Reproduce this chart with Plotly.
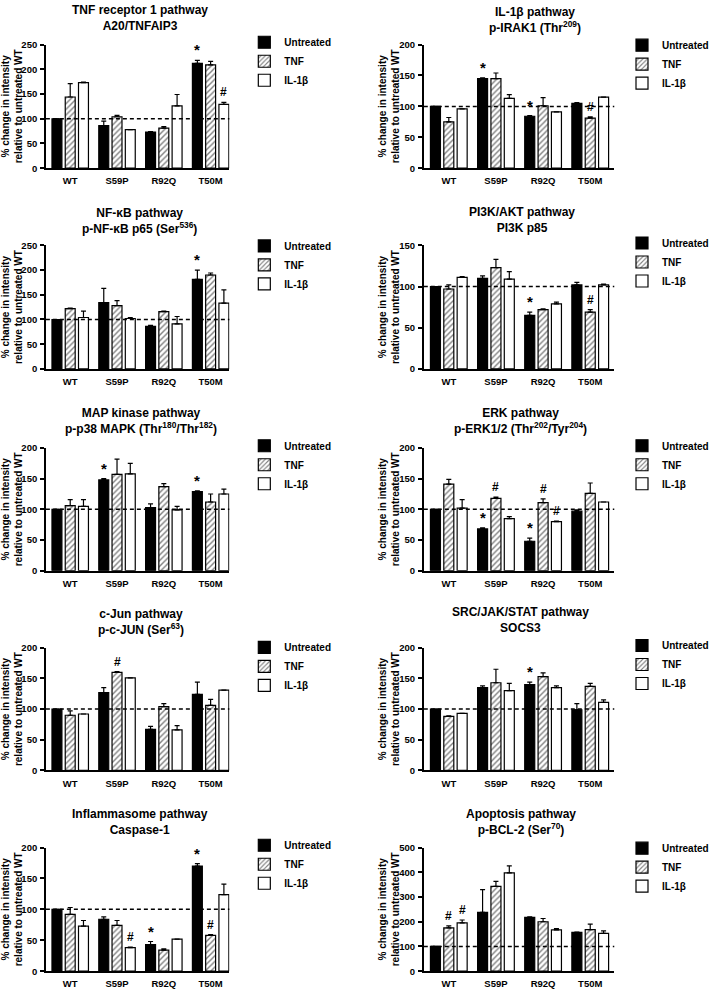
import plotly.graph_objects as go
from plotly.subplots import make_subplots

W, H = 714, 992
FONT = "Liberation Sans, Arial, sans-serif"

groups = ["WT", "S59P", "R92Q", "T50M"]
series = ["Untreated", "TNF", "IL-1β"]

# means / SEM, one row per series (Untreated, TNF, IL-1β), one value per genotype
a20_mean = [[100, 86, 73, 212], [144, 104, 81, 209], [173, 78, 126, 129]]
a20_sem = [[0, 9, 1, 6], [27, 3, 3, 7], [1, 0, 23, 4]]
a20_sig = [("T50M", 0, "*"), ("T50M", 2, "#")]

irak_mean = [[100, 145, 84, 105], [75, 145, 101, 81], [96, 113, 91, 115]]
irak_sem = [[0, 1, 1, 1], [7, 9, 13, 2], [0, 6, 0, 0]]
irak_sig = [("S59P", 0, "*"), ("R92Q", 0, "*"), ("T50M", 1, "#")]

nfkb_mean = [[100, 134, 86, 181], [122, 128, 116, 190], [104, 102, 91, 133]]
nfkb_sem = [[0, 29, 2, 19], [1, 10, 1, 4], [13, 2, 15, 27]]
nfkb_sig = [("T50M", 0, "*")]

pi3k_mean = [[100, 110, 65, 102], [97, 123, 72, 69], [111, 109, 79, 102]]
pi3k_sem = [[0, 3, 4, 3], [5, 10, 1, 3], [1, 9, 2, 1]]
pi3k_sig = [("R92Q", 0, "*"), ("T50M", 1, "#")]

p38_mean = [[100, 148, 103, 129], [106, 157, 137, 112], [105, 158, 99, 125]]
p38_sem = [[0, 2, 6, 1], [10, 25, 5, 13], [11, 17, 6, 8]]
p38_sig = [("S59P", 0, "*"), ("T50M", 0, "*")]

erk_mean = [[100, 68, 48, 97], [141, 118, 111, 126], [102, 85, 80, 112]]
erk_sem = [[0, 2, 5, 2], [8, 2, 6, 17], [14, 3, 1, 0]]
erk_sig = [("S59P", 0, "*"), ("S59P", 1, "#"), ("R92Q", 0, "*"),
           ("R92Q", 1, "#"), ("R92Q", 2, "#")]

jun_mean = [[100, 127, 67, 124], [90, 160, 104, 106], [92, 151, 66, 131]]
jun_sem = [[0, 8, 5, 20], [7, 1, 5, 10], [0, 0, 7, 0]]
jun_sig = [("S59P", 1, "#")]

socs3_mean = [[100, 135, 140, 99], [88, 143, 153, 137], [93, 130, 135, 111]]
socs3_sem = [[0, 3, 4, 10], [1, 22, 6, 5], [0, 12, 3, 4]]
socs3_sig = [("R92Q", 0, "*")]

casp1_mean = [[100, 84, 43, 170], [92, 74, 34, 58], [73, 38, 52, 124]]
casp1_sem = [[0, 4, 5, 4], [11, 8, 2, 1], [9, 1, 0, 17]]
casp1_sig = [("S59P", 2, "#"), ("R92Q", 0, "*"), ("T50M", 0, "*"), ("T50M", 1, "#")]

bcl2_mean = [[100, 238, 218, 157], [175, 343, 200, 168], [195, 398, 167, 153]]
bcl2_sem = [[0, 92, 2, 1], [8, 20, 13, 22], [12, 28, 5, 10]]
bcl2_sig = [("WT", 1, "#"), ("WT", 2, "#")]

panels = [
    ("TNF receptor 1 pathway<br>A20/TNFAIP3", a20_mean, a20_sem, a20_sig, 250, 50),
    ("IL-1β pathway<br>p-IRAK1 (Thr<sup>209</sup>)", irak_mean, irak_sem, irak_sig, 200, 50),
    ("NF-κB pathway<br>p-NF-κB p65 (Ser<sup>536</sup>)", nfkb_mean, nfkb_sem, nfkb_sig, 250, 50),
    ("PI3K/AKT pathway<br>PI3K p85", pi3k_mean, pi3k_sem, pi3k_sig, 150, 50),
    ("MAP kinase pathway<br>p-p38 MAPK (Thr<sup>180</sup>/Thr<sup>182</sup>)", p38_mean, p38_sem, p38_sig, 200, 50),
    ("ERK pathway<br>p-ERK1/2 (Thr<sup>202</sup>/Tyr<sup>204</sup>)", erk_mean, erk_sem, erk_sig, 200, 50),
    ("c-Jun pathway<br>p-c-JUN (Ser<sup>63</sup>)", jun_mean, jun_sem, jun_sig, 200, 50),
    ("SRC/JAK/STAT pathway<br>SOCS3", socs3_mean, socs3_sem, socs3_sig, 200, 50),
    ("Inflammasome pathway<br>Caspase-1", casp1_mean, casp1_sem, casp1_sig, 200, 50),
    ("Apoptosis pathway<br>p-BCL-2 (Ser<sup>70</sup>)", bcl2_mean, bcl2_sem, bcl2_sig, 500, 100),
]

# layout in pixels
rows_px = [(39, 164), (242, 367), (447, 571), (649, 773), (851, 976)]
cols_px = [(46, 230), (425, 616)]
x_ranges = [[-0.52, 3.40], [-0.53, 3.51]]
title_xy = [(140, 12), (537, 14), (140, 217), (523, 216), (141, 420),
            (522, 420), (141, 623), (522, 621), (140, 825), (522, 825)]
legend_y = [46, 49, 252, 249, 454, 454, 658, 656, 858, 861]
legend_x = [245, 624]
ytitle_x = [12, 390]

BARGAP = 0.15
slot = (1 - BARGAP) / 3

fig = make_subplots(rows=5, cols=2)

bar_styles = [
    dict(color="black", line=dict(color="black", width=1.2)),
    dict(color="white", line=dict(color="black", width=1.2),
         pattern=dict(shape="/", fgcolor="black", bgcolor="white", size=4, solidity=0.35)),
    dict(color="white", line=dict(color="black", width=1.2)),
]

annotations = []
for n, (title, mean, sem, sig, ymax, dt) in enumerate(panels):
    r, c = n // 2 + 1, n % 2 + 1
    leg = "legend" if n == 0 else f"legend{n + 1}"
    for k in range(3):
        fig.add_trace(go.Bar(
            x=list(range(len(groups))), y=mean[k], name=series[k],
            marker=bar_styles[k], legend=leg,
            error_y=dict(type="data", array=sem[k], arrayminus=[0] * len(groups),
                         symmetric=False, color="black", thickness=1.2, width=2.5),
        ), row=r, col=c)

    t, b = rows_px[r - 1]
    x0, x1 = cols_px[c - 1]
    fig.update_xaxes(domain=[x0 / W, x1 / W], range=x_ranges[c - 1],
                     tickvals=list(range(len(groups))), ticktext=groups, row=r, col=c)
    fig.update_yaxes(domain=[1 - b / H, 1 - t / H], range=[0, ymax], dtick=dt,
                     row=r, col=c)
    fig.add_hline(y=100, line=dict(color="black", width=1.5, dash="4px,3px"), row=r, col=c)

    fig.update_layout({leg: dict(
        x=legend_x[c - 1] / W, y=1 - (legend_y[n] - 24) / H, xanchor="left", yanchor="top",
        bgcolor="rgba(0,0,0,0)", font=dict(family=FONT, size=10, color="black", weight="bold"),
        itemclick=False, itemdoubleclick=False)})

    tx, ty = title_xy[n]
    annotations.append(dict(
        text=f"<b>{title}</b>", x=tx / W, y=1 - ty / H, xref="paper", yref="paper",
        xanchor="center", yanchor="middle", showarrow=False,
        font=dict(family=FONT, size=12, color="black")))
    annotations.append(dict(
        text="<b>% change in intensity<br>relative to untreated WT</b>",
        x=ytitle_x[c - 1] / W, y=1 - (t + b) / 2 / H, xref="paper", yref="paper",
        xanchor="center", yanchor="middle", textangle=-90, showarrow=False,
        font=dict(family=FONT, size=10, color="black")))

    xr = "x" if n == 0 else f"x{n + 1}"
    yr = "y" if n == 0 else f"y{n + 1}"
    for g, k, sym in sig:
        i = groups.index(g)
        annotations.append(dict(
            text=f"<b>{sym}</b>", x=i + (k - 1) * slot, y=mean[k][i] + sem[k][i],
            xref=xr, yref=yr, xanchor="center", yanchor="bottom", showarrow=False,
            yshift=0 if sym == "*" else 1,
            font=dict(family=FONT, size=15 if sym == "*" else 12, color="black")))

fig.update_xaxes(showline=True, linecolor="black", linewidth=1.5, ticks="",
                 showgrid=False, zeroline=False, ticklabelstandoff=3,
                 tickfont=dict(family=FONT, size=9.5, color="black", weight="bold"))
fig.update_yaxes(showline=True, linecolor="black", linewidth=1.5, ticks="outside",
                 ticklen=4, tickwidth=1.5, tickcolor="black", showgrid=False,
                 zeroline=False, ticklabelstandoff=1,
                 tickfont=dict(family=FONT, size=9.5, color="black", weight="bold"))

fig.update_layout(
    width=W, height=H, margin=dict(l=0, r=0, t=0, b=0),
    paper_bgcolor="white", plot_bgcolor="white",
    barmode="group", bargap=BARGAP, bargroupgap=0.25,
    annotations=annotations, showlegend=True,
)

# page body has a default 8px margin; drop it so the figure sits at the window corner
fig.write_html("out.html", config={"displayModeBar": False},
               post_script="document.body.style.margin='0';")
